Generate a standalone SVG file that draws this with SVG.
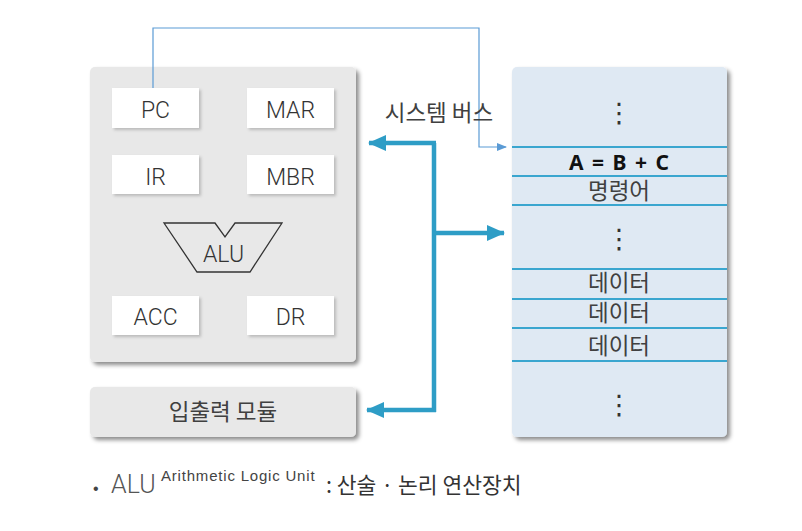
<svg xmlns="http://www.w3.org/2000/svg" width="802" height="531" viewBox="0 0 802 531">
<style>
.lbl{font-family:Roboto,"Liberation Sans",Arial,sans-serif;font-weight:300;font-size:23px;fill:#333;text-anchor:middle}
.kr{font-family:"Noto Sans CJK KR","Noto Sans",sans-serif;font-size:22.5px;fill:#404040;text-anchor:middle}
.dots{font-family:"DejaVu Sans",sans-serif;font-size:27px;fill:#333;text-anchor:middle}
.reg{fill:#ffffff;filter:url(#sh2)}
.mline{stroke:#3aa6cf;stroke-width:2}
.bus{stroke:#2e9dc6;stroke-width:4.5;fill:none}
</style>
<defs>
<filter id="sh" x="-10%" y="-10%" width="125%" height="125%">
<feDropShadow dx="3" dy="3" stdDeviation="2" flood-color="#000" flood-opacity="0.45"/>
</filter>
<filter id="sh2" x="-10%" y="-10%" width="125%" height="130%">
<feDropShadow dx="2" dy="2" stdDeviation="1.5" flood-color="#000" flood-opacity="0.2"/>
</filter>
<marker id="thin" markerWidth="10" markerHeight="8" refX="9" refY="4" orient="auto" markerUnits="userSpaceOnUse">
<path d="M0,0 L10,4 L0,8 Z" fill="#5b9bd5"/>
</marker>
<marker id="bah" markerWidth="18" markerHeight="16" refX="17" refY="8" orient="auto" markerUnits="userSpaceOnUse">
<path d="M0,0 L18,8 L0,16 Z" fill="#2e9dc6"/>
</marker>
</defs>

<g id="cpu">
<rect x="90" y="67" width="266" height="295" rx="5" fill="#e8e8e8" filter="url(#sh)"/>
</g>
<g id="pc"><rect class="reg" x="112" y="88" width="87" height="40"/><text class="lbl" x="155.5" y="118">PC</text></g>
<g id="mar"><rect class="reg" x="247" y="88" width="87" height="40"/><text class="lbl" x="290.5" y="118">MAR</text></g>
<g id="ir"><rect class="reg" x="112" y="155" width="87" height="39"/><text class="lbl" x="155.5" y="185">IR</text></g>
<g id="mbr"><rect class="reg" x="247" y="155" width="87" height="39"/><text class="lbl" x="290.5" y="185">MBR</text></g>
<g id="alu">
<path d="M164,223 L215,223 L225,237 L235,223 L282,223 L250,272 L197,272 Z" fill="none" stroke="#333" stroke-width="1.3"/>
<text class="lbl" x="223.5" y="262">ALU</text>
</g>
<g id="acc"><rect class="reg" x="112" y="296" width="87" height="39"/><text class="lbl" x="155.5" y="325">ACC</text></g>
<g id="dr"><rect class="reg" x="247" y="296" width="87" height="39"/><text class="lbl" x="290.5" y="325">DR</text></g>

<g id="io">
<rect x="90" y="387" width="266" height="50" rx="5" fill="#e8e8e8" filter="url(#sh)"/>
<text class="kr" x="223" y="420">입출력 모듈</text>
</g>

<g id="memory">
<rect x="512" y="67" width="215" height="370" rx="5" fill="#dfe9f3" filter="url(#sh)"/>
<line class="mline" x1="512" y1="147" x2="727" y2="147"/>
<line class="mline" x1="512" y1="176" x2="727" y2="176"/>
<line class="mline" x1="512" y1="205" x2="727" y2="205"/>
<line class="mline" x1="512" y1="269" x2="727" y2="269"/>
<line class="mline" x1="512" y1="299" x2="727" y2="299"/>
<line class="mline" x1="512" y1="328" x2="727" y2="328"/>
<line class="mline" x1="512" y1="361" x2="727" y2="361"/>
<text class="dots" x="619" y="122">⋮</text>
<text x="619" y="170" font-size="21" font-weight="bold" fill="#111" text-anchor="middle" word-spacing="3" style="font-family:'Noto Sans','Liberation Sans',sans-serif">A = B + C</text>
<text class="kr" x="619" y="199">명령어</text>
<text class="dots" x="619" y="248">⋮</text>
<text class="kr" x="619" y="291">데이터</text>
<text class="kr" x="619" y="321">데이터</text>
<text class="kr" x="619" y="354">데이터</text>
<text class="dots" x="619" y="414">⋮</text>
</g>

<g id="connectors">
<polyline points="153,88 153,28 479,28 479,147 506,147" fill="none" stroke="#5b9bd5" stroke-width="1.2" marker-end="url(#thin)"/>
<polyline class="bus" points="434,143 434,412"/>
<line class="bus" x1="436" y1="143" x2="369" y2="143" marker-end="url(#bah)"/>
<line class="bus" x1="436" y1="410" x2="367" y2="410" marker-end="url(#bah)"/>
<line class="bus" x1="432" y1="233" x2="504" y2="233" marker-end="url(#bah)"/>
</g>
<text class="kr" x="439" y="121">시스템 버스</text>

<g id="legend">
<text x="93" y="494" font-family="Liberation Sans,sans-serif" font-size="16" fill="#444">•</text>
<text x="111" y="493" font-family="Roboto,Liberation Sans,sans-serif" font-weight="300" font-size="25" fill="#555">ALU</text>
<text x="161" y="481" font-family="Liberation Sans,sans-serif" font-size="15" letter-spacing="0.8" fill="#444">Arithmetic Logic Unit</text>
<text x="326" y="493" font-family="Noto Sans CJK KR,sans-serif" font-size="21.5" fill="#333">: 산술 · 논리 연산장치</text>
</g>
</svg>
